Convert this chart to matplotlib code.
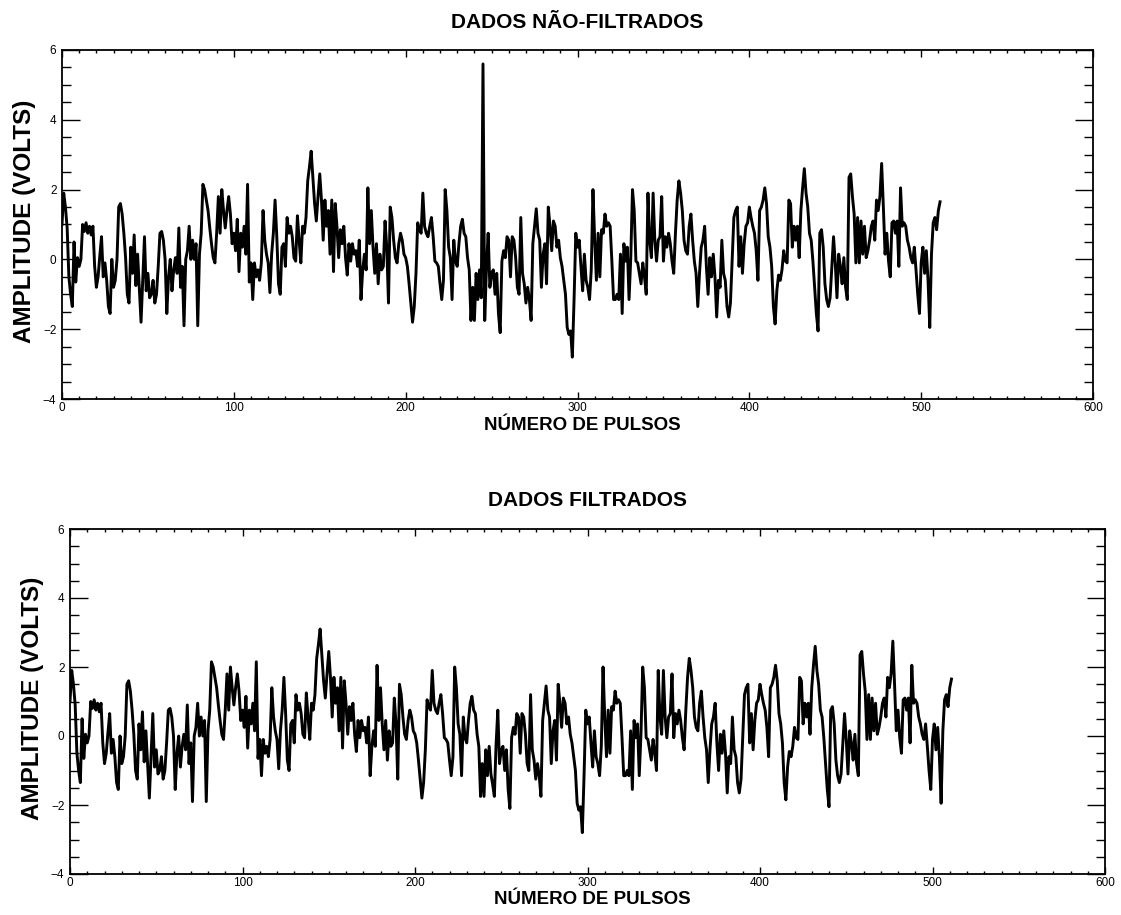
import numpy as np
import matplotlib
matplotlib.use("Agg")
import matplotlib.pyplot as plt
from matplotlib.ticker import MultipleLocator

plt.rcParams['font.family'] = ['Liberation Sans', 'DejaVu Sans']

# amplitude (V) per pulse
amplitude = [
    1.0, 1.9, 1.5, 0.9, -0.5, -1.0, -1.35, 0.5, -0.65, 0.05, -0.2, 0.0, 1.0, 0.8, 1.05, 0.75,
    0.95, 0.7, 0.95, -0.2, -0.8, -0.5, 0.1, 0.65, -0.5, -0.1, -0.6, -1.35, -1.55, 0.0, -0.8, -0.6,
    0.0, 1.5, 1.6, 1.3, 0.75, 0.05, -1.0, -1.25, 0.35, -0.4, 0.7, -0.75, 0.15, -0.8, -1.8, -0.6,
    0.65, -0.9, -0.4, -1.1, -1.0, -0.6, -1.25, -1.0, -0.2, 0.75, 0.8, 0.55, 0.0, -1.55, -0.5, 0.0,
    -0.9, -0.3, 0.05, -0.4, 0.9, -0.8, -0.2, -1.9, 0.0, 0.25, 0.95, 0.0, 0.55, 0.0, 0.45, -1.9,
    0.15, 0.75, 2.15, 2.0, 1.7, 1.4, 0.9, 0.45, 0.05, -0.1, 0.75, 1.8, 0.75, 2.0, 1.4, 0.9,
    1.4, 1.8, 1.3, 0.45, 0.75, 0.25, 1.15, -0.35, 0.75, 0.35, 0.95, 0.15, 2.15, -0.65, -0.1, -1.15,
    -0.1, -0.5, -0.3, -0.6, -0.1, 1.4, 0.55, 0.15, -0.1, -0.95, 0.15, 0.75, 1.7, 0.65, -0.7, -1.0,
    0.35, 0.45, -0.2, 1.2, 0.75, 0.95, 0.65, 0.05, -0.05, 1.25, 0.55, -0.1, 0.95, 0.75, 1.2, 2.25,
    2.65, 3.1, 2.35, 1.6, 1.1, 1.8, 2.45, 1.7, 0.55, 1.7, 0.95, 1.4, 0.15, 1.7, -0.35, 1.6,
    0.95, 0.05, 0.85, 0.45, 0.95, 0.05, -0.45, 0.45, -0.05, 0.45, 0.15, 0.25, -0.2, 0.55, -1.15, -0.3,
    0.15, -0.3, 2.05, 0.45, 1.4, 0.35, -0.4, 0.45, -0.7, 0.15, -0.3, -0.2, 1.1, 0.35, -1.25, 1.5,
    1.2, 0.55, 0.05, -0.1, 0.45, 0.75, 0.55, 0.15, 0.05, -0.2, -0.7, -1.25, -1.8, -1.35, -0.4, 1.05,
    0.85, 0.75, 1.9, 0.95, 0.75, 0.65, 0.95, 1.2, 0.65, -0.05, -0.1, -0.2, -0.7, -1.15, -0.6, 2.0,
    1.4, 0.35, 0.05, -1.15, 0.55, -0.05, -0.2, 0.45, 0.95, 1.15, 0.75, 0.65, 0.05, -0.3, -1.75, -0.8,
    -1.75, -0.4, -1.15, -0.3, -1.1, 5.6, -1.75, -0.25, 0.75, -0.8, -0.4, -0.3, -1.0, -0.4, -1.55, -2.1,
    -0.05, 0.25, 0.05, 0.65, 0.55, -0.5, 0.65, 0.55, 0.05, -0.8, -1.0, 1.2, -0.4, -0.7, -1.25, -0.8,
    -1.15, -1.75, 0.45, 0.95, 1.45, 0.75, 0.55, -0.8, 0.15, 0.45, -0.7, 1.5, 0.95, 0.25, 1.1, 0.95,
    0.35, 0.55, 0.05, -0.2, -0.6, -1.0, -1.95, -2.15, -2.05, -2.8, -1.15, 0.75, 0.35, 0.55, -0.2, -0.9,
    0.15, -0.6, -0.8, -1.15, -0.3, 2.0, 0.55, -0.6, 0.75, -0.5, 0.85, 0.75, 1.3, 0.95, 1.05, 0.95,
    -0.05, -1.15, -1.15, -1.0, -1.15, 0.15, -1.55, 0.45, -0.05, 0.35, -1.15, 0.05, 2.0, 1.4, -0.05, -0.1,
    -0.4, -0.7, -0.1, -0.5, -1.0, 1.9, 0.55, 0.05, 1.9, 0.55, -0.05, 0.55, 0.65, 1.8, -0.05, 0.65,
    0.35, 0.75, 0.45, -0.05, -0.4, 0.75, 1.7, 2.25, 1.9, 1.4, 0.55, 0.25, 0.15, 0.95, 1.3, 0.55,
    -0.05, -0.4, -1.35, -0.4, 0.35, 0.55, 0.95, -0.2, -1.0, 0.05, -0.5, 0.15, -0.5, -1.65, -0.6, -0.8,
    0.55, -0.4, -0.6, -1.35, -1.65, -1.25, -0.05, 1.2, 1.4, 1.5, -0.2, 0.65, -0.4, 0.45, 0.95, 1.05,
    1.5, 1.2, 0.95, 0.75, 0.25, -0.6, 1.4, 1.5, 1.7, 2.05, 1.6, 0.65, 0.35, -0.2, -1.35, -1.85,
    -0.9, -0.45, -0.6, -0.3, 0.25, -0.05, -0.1, 1.7, 1.6, 0.35, 0.95, 0.55, 0.95, 0.05, 1.4, 2.05,
    2.6, 1.9, 1.5, 0.75, 0.55, -0.05, -0.8, -1.55, -2.05, 0.75, 0.85, 0.35, -0.7, -1.15, -1.35, -1.1,
    -0.2, 0.65, -0.1, -1.1, 0.15, -0.2, -0.7, 0.05, -0.8, -1.15, 2.35, 2.45, 1.8, 1.3, -0.1, 1.2,
    -0.1, 1.1, 0.15, 0.95, 0.05, 0.25, 0.55, 0.95, 1.1, 0.55, 1.7, 1.4, 1.8, 2.75, 1.5, 0.15,
    0.75, -0.05, -0.5, 1.05, 1.1, 0.75, 1.1, -0.2, 2.05, 0.95, 1.05, 0.95, 0.55, 0.35, 0.05, -0.1,
    0.35, -0.3, -1.0, -1.55, -0.1, 0.35, -0.4, 0.25, -0.6, -1.95, 0.15, 1.05, 1.2, 0.85, 1.4, 1.65,
]

# the filter only removes the spike
spike_pulse = 245
spike_filtered = -1.4

titles = ["DADOS NÃO-FILTRADOS", "DADOS FILTRADOS"]
xlabel = "NÚMERO DE PULSOS"
ylabel = "AMPLITUDE (VOLTS)"

raw = np.array(amplitude)
filt = raw.copy()
filt[spike_pulse] = spike_filtered
pulses = np.arange(len(raw))

W, H = 1121, 915
fig = plt.figure(figsize=(W / 100, H / 100), dpi=100)
fig.patch.set_facecolor('white')

# axes boxes in pixels: left, right, top, bottom
boxes = [(62, 1093, 50, 399), (70, 1105, 529, 874)]
series = [raw, filt]

for i, (l, r, t, b) in enumerate(boxes):
    ax = fig.add_axes([l / W, 1 - b / H, (r - l) / W, (b - t) / H])
    ax.plot(pulses, series[i], color='black', lw=2.1)
    ax.set_xlim(0, 600)
    ax.set_ylim(-4, 6)
    ax.xaxis.set_major_locator(MultipleLocator(100))
    ax.xaxis.set_minor_locator(MultipleLocator(10))
    ax.yaxis.set_major_locator(MultipleLocator(2))
    ax.yaxis.set_minor_locator(MultipleLocator(0.5))
    ax.tick_params(which='both', direction='in', top=True, right=True,
                   width=1.0, colors='black', labelsize=8.5)
    ax.tick_params(axis='y', which='major', length=13, pad=4)
    ax.tick_params(axis='y', which='minor', length=6.5)
    ax.tick_params(axis='x', which='major', length=5, pad=2)
    ax.tick_params(axis='x', which='minor', length=2.5)
    for s in ax.spines.values():
        s.set_linewidth(1.3)

    cx = (l + r) / 2 / W
    fig.text(cx, 1 - (t - 28) / H, titles[i], ha='center', va='center',
             fontsize=15, fontweight='bold')
    fig.text(cx + 0.004, 1 - (b + 26) / H, xlabel, ha='center', va='center',
             fontsize=13.5, fontweight='bold')
    fig.text((l - 37) / W, 1 - ((t + b) / 2 - 3) / H, ylabel, ha='center', va='center',
             rotation=90, fontsize=17.5, fontweight='bold')

fig.savefig('out.png', dpi=100, facecolor='white')
